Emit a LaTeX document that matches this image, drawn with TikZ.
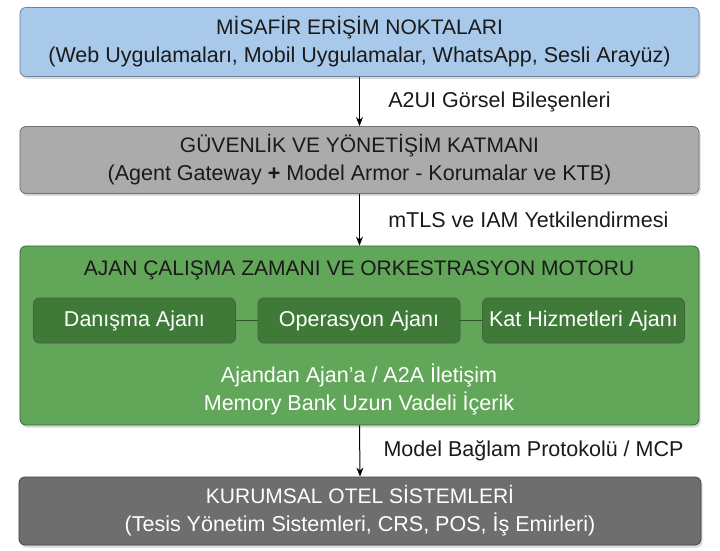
\documentclass[tikz,border=0pt]{standalone}
\usepackage{fontspec}
\setmainfont{Liberation Sans}
\usetikzlibrary{arrows.meta,shadows}

\definecolor{blueFill}{HTML}{A9C9EA}
\definecolor{blueLine}{HTML}{6E829C}
\definecolor{grayFill}{HTML}{ABABAB}
\definecolor{grayLine}{HTML}{6F6F6F}
\definecolor{greenFill}{HTML}{62A659}
\definecolor{greenLine}{HTML}{3C6A37}
\definecolor{agentFill}{HTML}{3F7A38}
\definecolor{darkFill}{HTML}{6E6E6E}
\definecolor{darkLine}{HTML}{454545}
\definecolor{inkText}{HTML}{1A1A1A}

\newcommand{\capsfont}{\fontsize{21bp}{28bp}\selectfont}
\newcommand{\bodyfont}{\fontsize{21.5bp}{28bp}\selectfont}

\begin{document}
\begin{tikzpicture}[x=1bp,y=-1bp,
    layer/.style={rectangle, rounded corners=6bp, line width=0.8bp, align=center,
      font=\bodyfont, inner sep=0pt,
      drop shadow={shadow xshift=1.5bp, shadow yshift=-2.5bp, opacity=0.3}},
    agent/.style={rectangle, rounded corners=6bp, line width=0.8bp, draw=greenLine,
      fill=agentFill, text=white, minimum width=202bp, minimum height=45bp,
      font=\bodyfont,
      drop shadow={shadow xshift=1bp, shadow yshift=-2bp, opacity=0.3}},
    flow/.style={draw=black, line width=1bp, -{Stealth[length=9bp,width=7bp]}},
    flowlabel/.style={font=\bodyfont, text=inkText, anchor=west}]

  \useasboundingbox (0,0) rectangle (720,551);

  \begin{scope}[every node/.style={layer}]
    \node[fill=blueFill, draw=blueLine, text=inkText, minimum width=679bp, minimum height=69bp]
      (guest) at (359.5,42) {{\capsfont MİSAFİR ERİŞİM NOKTALARI}\\(Web Uygulamaları, Mobil Uygulamalar, WhatsApp, Sesli Arayüz)};
    \node[fill=grayFill, draw=grayLine, text=inkText, minimum width=679bp, minimum height=67bp]
      (gov) at (359.5,160) {{\capsfont GÜVENLİK VE YÖNETİŞİM KATMANI}\\(Agent Gateway \textbf{+} Model Armor - Korumalar ve KTB)};
    \node[fill=greenFill, draw=greenLine, minimum width=679bp, minimum height=179bp]
      (runtime) at (359.5,335.5) {};
    \node[fill=darkFill, draw=darkLine, text=white, minimum width=682bp, minimum height=68bp]
      (hotel) at (360,511) {{\capsfont KURUMSAL OTEL SİSTEMLERİ}\\(Tesis Yönetim Sistemleri, CRS, POS, İş Emirleri)};
  \end{scope}

  \node[font=\capsfont, text=inkText] (rtitle) at (359,270)
    {AJAN ÇALIŞMA ZAMANI VE ORKESTRASYON MOTORU};

  \begin{scope}[every node/.style={agent}]
    \node (desk) at (134.5,320.5) {Danışma Ajanı};
    \node (ops)  at (359,320.5)   {Operasyon Ajanı};
    \node (hk)   at (583.5,320.5) {Kat Hizmetleri Ajanı};
  \end{scope}

  \node[align=center, text=white, font=\bodyfont] (rnote) at (359,389)
    {Ajandan Ajan’a / A2A İletişim\\Memory Bank Uzun Vadeli İçerik};

  \draw[line width=1bp, greenLine!80!black] (desk) -- (ops);
  \draw[line width=1bp, greenLine!80!black] (ops) -- (hk);

  \path (guest.south) edge[flow] node[flowlabel, xshift=25bp] {A2UI Görsel Bileşenleri} (gov.north);
  \path (gov.south) edge[flow] node[flowlabel, xshift=25bp] {mTLS ve IAM Yetkilendirmesi} (runtime.north);
  \path (runtime.south) edge[flow] node[flowlabel, xshift=20bp] {Model Bağlam Protokolü / MCP} (hotel.north);

\end{tikzpicture}
\end{document}
